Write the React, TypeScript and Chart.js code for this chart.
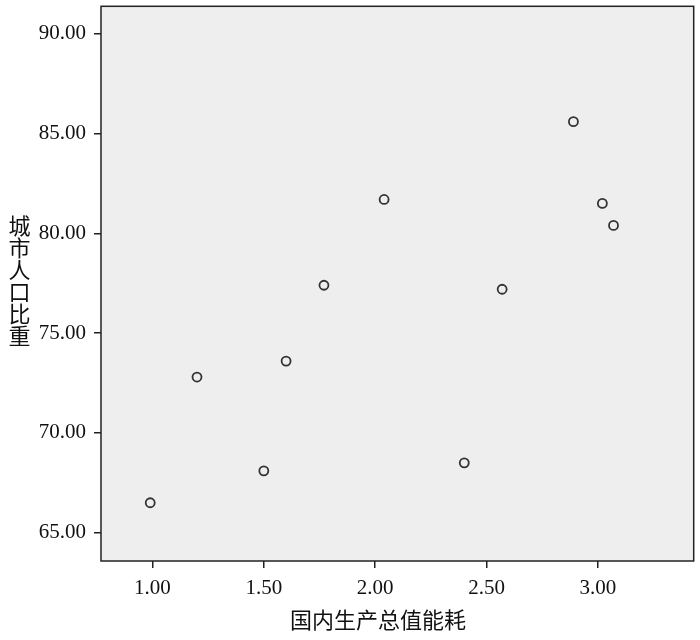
import React, { useEffect, useRef } from "react";
import { Chart, registerables } from "chart.js";

Chart.register(...registerables);

const xValues = [0.99, 1.2, 1.5, 1.6, 1.77, 2.04, 2.4, 2.57, 2.89, 3.02, 3.07];
const yValues = [66.5, 72.8, 68.1, 73.6, 77.4, 81.7, 68.5, 77.2, 85.6, 81.5, 80.4];
const xTicks = [1.0, 1.5, 2.0, 2.5, 3.0];
const yTicks = [65, 70, 75, 80, 85, 90];
const xTitle = "国内生产总值能耗";
const yTitle = "城市人口比重";

const CJK = '"Noto Sans CJK SC", sans-serif';
const SERIF = '"Liberation Serif", "Times New Roman", serif';

const framePlugin = {
  id: "frame",
  beforeDraw(chart: any) {
    const { ctx, chartArea: a } = chart;
    ctx.save();
    ctx.fillStyle = "#eeeeee";
    ctx.fillRect(a.left, a.top, a.right - a.left, a.bottom - a.top);
    ctx.restore();
  },
  afterDraw(chart: any) {
    const { ctx, chartArea: a } = chart;
    ctx.save();
    ctx.strokeStyle = "#222222";
    ctx.lineWidth = 1.5;
    ctx.strokeRect(a.left, a.top, a.right - a.left, a.bottom - a.top);
    ctx.fillStyle = "#111111";
    ctx.font = `22px ${CJK}`;
    ctx.textAlign = "center";
    ctx.textBaseline = "middle";
    ctx.fillText(xTitle, 378, 620);
    const chars = Array.from(yTitle);
    chars.forEach((c, i) => {
      ctx.fillText(c, 19.5, 226 + i * 22);
    });
    ctx.restore();
  },
};

export default function App() {
  const ref = useRef<HTMLCanvasElement>(null);
  useEffect(() => {
    if (!ref.current) return;
    const chart = new Chart(ref.current, {
      type: "scatter",
      data: {
        datasets: [
          {
            data: xValues.map((x, i) => ({ x, y: yValues[i] })),
            pointStyle: "circle",
            pointRadius: 4.5,
            pointBorderWidth: 1.8,
            pointBorderColor: "#333333",
            pointBackgroundColor: "rgba(0,0,0,0)",
          },
        ],
      },
      options: {
        animation: false,
        responsive: false,
        layout: { padding: { top: 5, right: 3, left: 0, bottom: 0 } },
        plugins: { legend: { display: false }, tooltip: { enabled: false } },
        scales: {
          x: {
            type: "linear",
            min: 0.769,
            max: 3.43,
            afterBuildTicks: (axis: any) => {
              axis.ticks = xTicks.map((v) => ({ value: v }));
            },
            afterFit: (axis: any) => {
              axis.height = 79;
              axis.paddingLeft = 0;
              axis.paddingRight = 0;
            },
            ticks: {
              font: { family: SERIF, size: 21 },
              color: "#111111",
              padding: 8,
              maxRotation: 0,
              callback: (v: any) => Number(v).toFixed(2),
            },
            grid: {
              drawOnChartArea: false,
              drawTicks: true,
              tickLength: 7,
              color: "#222222",
              lineWidth: 1.5,
            },
            border: { display: false },
          },
          y: {
            type: "linear",
            min: 63.58,
            max: 91.38,
            afterBuildTicks: (axis: any) => {
              axis.ticks = yTicks.map((v) => ({ value: v }));
            },
            afterFit: (axis: any) => {
              axis.width = 101;
              axis.paddingTop = 0;
              axis.paddingBottom = 0;
            },
            ticks: {
              font: { family: SERIF, size: 21 },
              color: "#111111",
              padding: 8,
              callback: (v: any) => Number(v).toFixed(2),
            },
            grid: {
              drawOnChartArea: false,
              drawTicks: true,
              tickLength: 7,
              color: "#222222",
              lineWidth: 1.5,
            },
            border: { display: false },
          },
        },
      },
      plugins: [framePlugin],
    } as any);
    return () => chart.destroy();
  }, []);
  return (
    <div style={{ position: "fixed", left: 0, top: 0, width: 700, height: 640, background: "#ffffff" }}>
      <canvas ref={ref} width={700} height={640} style={{ width: 700, height: 640, display: "block" }} />
    </div>
  );
}
